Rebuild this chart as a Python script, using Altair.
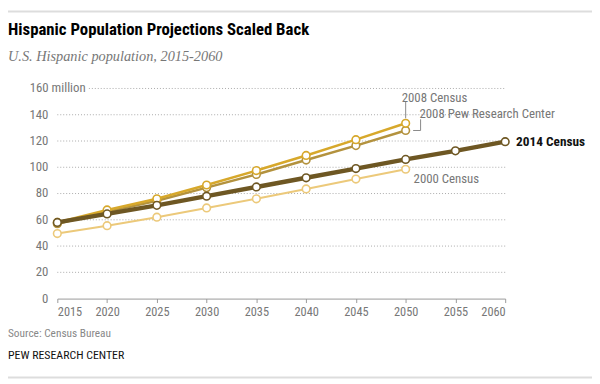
import altair as alt
import pandas as pd

years = [2015, 2020, 2025, 2030, 2035, 2040, 2045, 2050, 2055, 2060]
census_2014 = [58, 64.5, 71, 78, 85, 92, 99, 106, 112.5, 119.5]
census_2008 = [58, 67.5, 76, 86.5, 97.5, 109, 121, 133.5]
pew_2008 = [57, 66, 74.5, 84.5, 94.5, 105.5, 116.5, 128]
census_2000 = [49.5, 55.5, 62, 69, 76, 83.5, 91, 98.5]
series_names = ["2000 Census", "2008 Pew Research Center", "2008 Census", "2014 Census"]
series_colors = ["#ecc97a", "#b3923e", "#d7a82b", "#6e5723"]
series_widths = [2, 2.5, 2.5, 4.5]
y_ticks = [0, 20, 40, 60, 80, 100, 120, 140, 160]

rows = []
for name, vals in zip(series_names, [census_2000, pew_2008, census_2008, census_2014]):
    for yr, v in zip(years, vals):
        rows.append({"year": yr, "value": v, "series": name})
df = pd.DataFrame(rows)

W, H = 454, 213
FONT = "Liberation Sans Narrow, Roboto Condensed, DejaVu Sans Condensed, Roboto, sans-serif"

xs = alt.Scale(domain=[2015, 2060], nice=False, zero=False)
ys = alt.Scale(domain=[0, 160], nice=False)
cs = alt.Scale(domain=series_names, range=series_colors)
XAX = alt.Axis(values=years, format="d", grid=False, domainColor="#999", tickColor="#999",
               tickSize=4, labelFont=FONT, labelFontSize=12.5, labelColor="#777",
               labelPadding=3, title=None)


def X(field):
    return alt.X(field, scale=xs, axis=XAX)


def Y(field):
    return alt.Y(field, scale=ys, axis=None)


# gridlines
grid = alt.Chart(pd.DataFrame({"v": y_ticks[1:-1]})).mark_rule(
    color="#aaa", strokeDash=[1, 2], strokeWidth=1).encode(y=Y("v:Q"), x=alt.value(0), x2=alt.value(W))
grid_top = alt.Chart(pd.DataFrame({"v": y_ticks[-1:]})).mark_rule(
    color="#aaa", strokeDash=[1, 2], strokeWidth=1).encode(y=Y("v:Q"), x=alt.value(32), x2=alt.value(W))

ylabs = alt.Chart(pd.DataFrame({"v": y_ticks[:-1]})).mark_text(
    align="right", baseline="middle", font=FONT, fontSize=13, color="#777", dx=-9).encode(
    y=Y("v:Q"), x=alt.value(0), text=alt.Text("v:Q"))
ytop = alt.Chart(pd.DataFrame({"v": [160], "t": ["160 million"]})).mark_text(
    align="left", baseline="middle", font=FONT, fontSize=13, color="#777"
).encode(y=Y("v:Q"), x=alt.value(-28), text="t:N")

layers = [grid, grid_top, ylabs, ytop]
base = alt.Chart(df)
for name, w in zip(series_names, series_widths):
    sub = base.transform_filter(alt.datum.series == name)
    line = sub.mark_line(strokeWidth=w).encode(
        x=X("year:Q"), y=Y("value:Q"),
        color=alt.Color("series:N", scale=cs, legend=None),
    )
    pts = sub.mark_point(filled=False, fill="white", fillOpacity=1, size=60, strokeWidth=1.6, opacity=1).encode(
        x=X("year:Q"), y=Y("value:Q"),
        color=alt.Color("series:N", scale=cs, legend=None),
    )
    layers += [line, pts]

# series labels
lab_year = [2060, 2050, 2050, 2050]
lab_value = [119.5, 98.5, 133.5, 128]
lab_text = ["2014 Census", "2000 Census", "2008 Census", "2008 Pew Research Center"]


def label(i, **kw):
    d = pd.DataFrame({"year": [lab_year[i]], "value": [lab_value[i]], "t": [lab_text[i]]})
    return alt.Chart(d).mark_text(align="left", baseline="middle", font=FONT, **kw).encode(
        x=X("year:Q"), y=Y("value:Q"), text="t:N")


l2014 = label(0, dx=11, fontSize=13.5, fontWeight="bold", color="#111")
l2000 = label(1, dx=8, dy=10, fontSize=13, color="#777")
l2008 = label(2, dx=-4, dy=-26, fontSize=13, color="#777")
lpew = label(3, dx=14, dy=-17, fontSize=13, color="#777")

lead_df = pd.DataFrame({"x": [2050, 2050.75, 2051.5], "y": [150, 128, 128], "x2": [2050, 2051.5, 2051.5],
                        "y2": [137.3, 128, 136.5]})
leads = alt.Chart(lead_df).mark_rule(color="#888", strokeWidth=1).encode(
    x=X("x:Q"), x2="x2:Q", y=Y("y:Q"), y2="y2:Q")

layers += [leads, l2014, l2000, l2008, lpew]

# titles & furniture
txt = pd.DataFrame({"k": [0]})


def free_text(s, x, y, **kw):
    return alt.Chart(txt).mark_text(text=s, align="left", **kw).encode(x=alt.value(x), y=alt.value(y))


title = free_text("Hispanic Population Projections Scaled Back", -50, -54, baseline="alphabetic",
                  font=FONT, fontSize=17, fontWeight="bold", color="#000")
subtitle = free_text("U.S. Hispanic population, 2015-2060", -50, -28, baseline="alphabetic",
                     font="Liberation Serif, DejaVu Serif, serif", fontStyle="italic", fontSize=14.5, color="#777")
source = free_text("Source: Census Bureau", -50, H + 36, baseline="middle", font=FONT, fontSize=11.5, color="#888")
pew = free_text("PEW RESEARCH CENTER", -50, H + 57, baseline="middle", font=FONT, fontSize=12, color="#111")
topline = alt.Chart(txt).mark_rule(color="#ddd", strokeWidth=2).encode(
    x=alt.value(-50), x2=alt.value(W + 88), y=alt.value(-78))
botline = alt.Chart(txt).mark_rule(color="#ddd", strokeWidth=2).encode(
    x=alt.value(-50), x2=alt.value(W + 88), y=alt.value(H + 80))

layers += [title, subtitle, source, pew, topline, botline]

chart = alt.layer(*layers).properties(
    width=W, height=H, autosize=alt.AutoSizeParams(type="none"),
    padding={"left": 50, "top": 79, "right": 88, "bottom": 84},
).configure_view(stroke=None)

chart.save("out.html", embed_options={"renderer": "svg", "actions": False})
